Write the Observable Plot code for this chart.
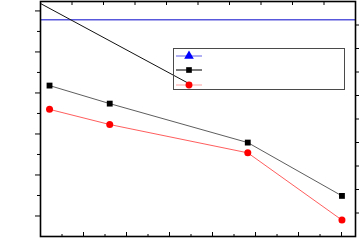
<!DOCTYPE html>
<html><head><meta charset="utf-8">
<script src="https://cdn.jsdelivr.net/npm/d3@7"></script>
<script src="https://cdn.jsdelivr.net/npm/@observablehq/plot@0.6"></script>
<style>
body{margin:0;background:#fff;}
#wrap{position:relative;width:359px;height:241px;overflow:hidden;}
#legend{position:absolute;left:173px;top:47.5px;width:172px;height:42.5px;border:1.2px solid #4a4a4a;box-sizing:border-box;background:transparent;}
#legend svg{position:absolute;left:0;top:0;}
</style>
</head><body><div id="wrap"></div>
<script>
// ---- data ----
const xValues = [2.1, 16.1, 48.2, 70.1];
const blackSeries = [36.8, 32.4, 22.9, 9.9];
const redSeries = [31.0, 27.3, 20.4, 4.0];
const blueLevel = [52.85];
const trendX = [0.2, 34.5];
const trendY = [56.7, 37.3];
const xMajorTicks = [10, 20, 30, 40, 50, 60, 70];
const xMinorTicks = [5, 15, 25, 35, 45, 55, 65];
const yMajorTicks = [5, 15, 25, 35, 45, 55];
const yMinorTicks = [10, 20, 30, 40, 50];
const topTicks = [1, 2, 3, 4, 5, 6, 7, 8, 9];     // top axis units (0..10)
const rightTicks = [1, 2, 3, 4, 5, 6, 7, 8, 9];   // right axis units (0..10)
const xDomain = [0, 73.25];
const yDomain = [0, 57.3];

// ---- layout ----
const W = 359, H = 241, mL = 40, mR = 4, mT = 1, mB = 5;
const pw = W - mL - mR, ph = H - mT - mB;

const blackData = xValues.map((x, i) => ({x, y: blackSeries[i]}));
const redData = xValues.map((x, i) => ({x, y: redSeries[i]}));
const trendData = trendX.map((x, i) => ({x, y: trendY[i]}));
const topT = topTicks.map(t => t * xDomain[1] / 10);
const rightT = rightTicks.map(t => t * yDomain[1] / 10);

const chart = Plot.plot({
  width: W, height: H,
  marginLeft: mL, marginRight: mR, marginTop: mT, marginBottom: mB,
  x: {domain: xDomain, axis: null},
  y: {domain: yDomain, axis: null},
  style: {background: "#fff"},
  marks: [
    Plot.ruleY(blueLevel, {stroke: "#5858dc", strokeWidth: 1.3}),
    Plot.line(trendData, {x: "x", y: "y", stroke: "#111", strokeWidth: 1}),
    Plot.line(blackData, {x: "x", y: "y", stroke: "#333", strokeWidth: 0.8}),
    Plot.line(redData, {x: "x", y: "y", stroke: "#ff3333", strokeWidth: 0.8}),
    Plot.dot(blackData, {x: "x", y: "y", symbol: "square", r: 3.3, fill: "#000", stroke: "none"}),
    Plot.dot(redData, {x: "x", y: "y", symbol: "circle", r: 3.5, fill: "#ff0000", stroke: "none"}),
    // left axis ticks (outward)
    Plot.tickY(yMajorTicks, {y: d => d, insetLeft: -5, insetRight: pw, stroke: "#000", strokeWidth: 1}),
    Plot.tickY(yMinorTicks, {y: d => d, insetLeft: -3, insetRight: pw, stroke: "#000", strokeWidth: 1}),
    // right axis ticks (outward)
    Plot.tickY(rightT, {y: d => d, insetLeft: pw, insetRight: -4, stroke: "#000", strokeWidth: 1}),
    // bottom axis ticks (inward)
    Plot.tickX(xMajorTicks, {x: d => d, insetTop: ph - 4, stroke: "#000", strokeWidth: 1}),
    Plot.tickX(xMinorTicks, {x: d => d, insetTop: ph - 2, stroke: "#000", strokeWidth: 1}),
    // top axis ticks (inward)
    Plot.tickX(topT, {x: d => d, insetBottom: ph - 4, stroke: "#000", strokeWidth: 1}),
    Plot.frame({stroke: "#000", strokeWidth: 1.6})
  ]
});

const wrap = document.getElementById("wrap");
wrap.appendChild(chart);

// legend (no text labels in the reference)
const legend = document.createElement("div");
legend.id = "legend";
wrap.appendChild(legend);
const ls = d3.select(legend).append("svg").attr("width", 172).attr("height", 42);
const entries = [
  {line: "#7a7ae8", fill: "#0000ff", sym: d3.symbolTriangle, size: 40, y: 7},
  {line: "#222", fill: "#000", sym: d3.symbolSquare, size: 32, y: 21},
  {line: "#ffb0b0", fill: "#ff0000", sym: d3.symbolCircle, size: 38, y: 36}
];
entries.forEach(e => {
  ls.append("line").attr("x1", 2).attr("x2", 28).attr("y1", e.y).attr("y2", e.y)
    .attr("stroke", e.line).attr("stroke-width", 1.2);
  ls.append("path").attr("d", d3.symbol(e.sym, e.size)())
    .attr("transform", `translate(15,${e.y})`).attr("fill", e.fill);
});
</script></body></html>
